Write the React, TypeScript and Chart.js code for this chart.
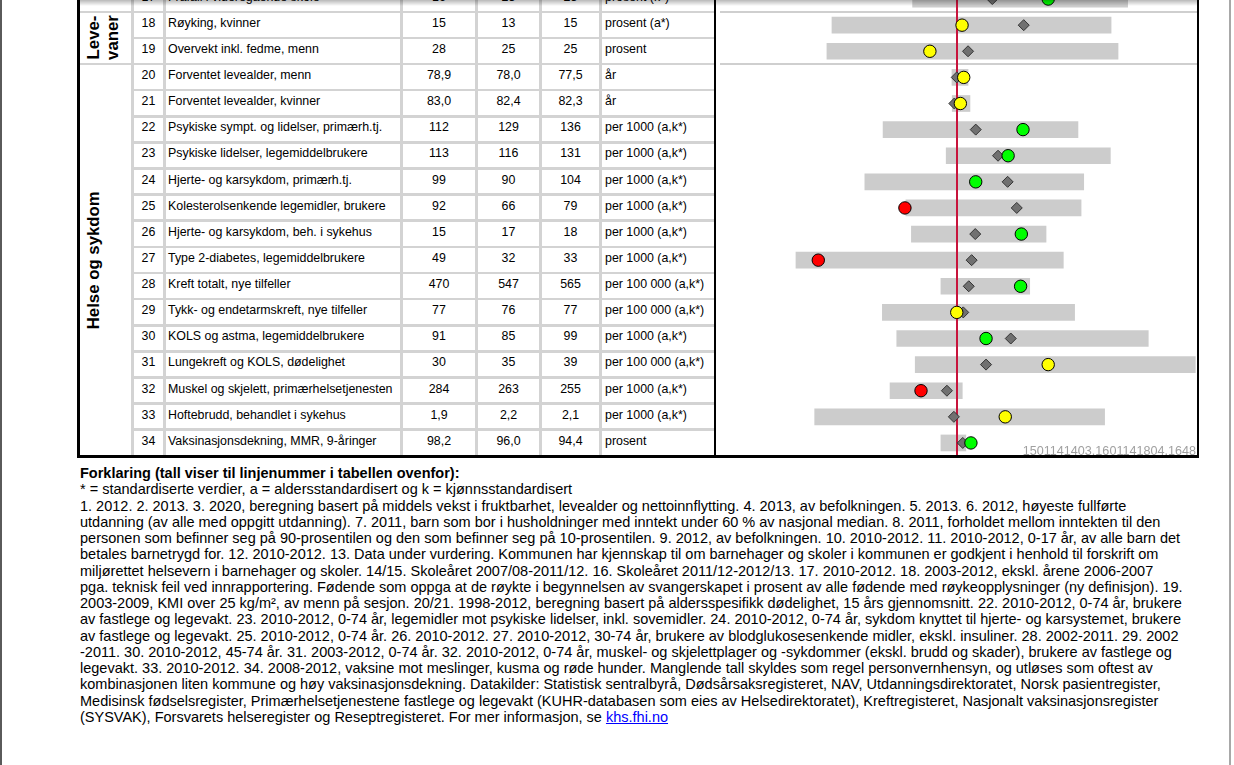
import React, { useEffect, useRef } from "react";
import { Chart, registerables } from "chart.js";

Chart.register(...registerables);

// ---------- data ----------
const rowNumbers = [17, 18, 19, 20, 21, 22, 23, 24, 25, 26, 27, 28, 29, 30, 31, 32, 33, 34];

const indicatorLabels = [
  "Frafall i videregående skole",
  "Røyking, kvinner",
  "Overvekt inkl. fedme, menn",
  "Forventet levealder, menn",
  "Forventet levealder, kvinner",
  "Psykiske sympt. og lidelser, primærh.tj.",
  "Psykiske lidelser, legemiddelbrukere",
  "Hjerte- og karsykdom, primærh.tj.",
  "Kolesterolsenkende legemidler, brukere",
  "Hjerte- og karsykdom, beh. i sykehus",
  "Type 2-diabetes, legemiddelbrukere",
  "Kreft totalt, nye tilfeller",
  "Tykk- og endetarmskreft, nye tilfeller",
  "KOLS og astma, legemiddelbrukere",
  "Lungekreft og KOLS, dødelighet",
  "Muskel og skjelett, primærhelsetjenesten",
  "Hoftebrudd, behandlet i sykehus",
  "Vaksinasjonsdekning, MMR, 9-åringer",
];

const municipalityText = ["16", "15", "28", "78,9", "83,0", "112", "113", "99", "92", "15", "49", "470", "77", "91", "30", "284", "1,9", "98,2"];
const countyText = ["23", "13", "25", "78,0", "82,4", "129", "116", "90", "66", "17", "32", "547", "76", "85", "35", "263", "2,2", "96,0"];
const norwayText = ["23", "15", "25", "77,5", "82,3", "136", "131", "104", "79", "18", "33", "565", "77", "99", "39", "255", "2,1", "94,4"];

const unitText = [
  "prosent (k*)",
  "prosent (a*)",
  "prosent",
  "år",
  "år",
  "per 1000 (a,k*)",
  "per 1000 (a,k*)",
  "per 1000 (a,k*)",
  "per 1000 (a,k*)",
  "per 1000 (a,k*)",
  "per 1000 (a,k*)",
  "per 100 000 (a,k*)",
  "per 100 000 (a,k*)",
  "per 1000 (a,k*)",
  "per 100 000 (a,k*)",
  "per 1000 (a,k*)",
  "per 1000 (a,k*)",
  "prosent",
];

// chart: standardised scores, Norway = 0
const rangeLow = [-18.5, -52.1, -54.2, -2.1, -2.0, -30.8, -4.5, -38.4, -21.3, -19.0, -67.1, -6.7, -31.1, -25.1, -17.4, -27.9, -59.3, -6.7];
const rangeHigh = [71.1, 64.2, 67.1, 4.6, 5.4, 50.4, 63.9, 52.8, 51.7, 37.1, 44.3, 30.3, 49.0, 79.7, 99.3, 2.2, 61.5, 3.7];
const countyScore = [14.7, 27.8, 4.6, -0.1, -1.1, 7.8, 17.1, 21.1, 24.9, 7.6, 6.1, 4.9, 2.6, 22.4, 12.1, -4.2, -1.3, 2.4];
const municipalityScore = [38.0, 2.1, -11.3, 2.8, 1.4, 27.5, 21.3, 7.8, -21.7, 26.8, -57.8, 26.5, -0.1, 12.1, 38.0, -15.0, 20.1, 5.8];
const markerColour = ["green", "yellow", "yellow", "yellow", "yellow", "green", "green", "green", "red", "green", "red", "green", "yellow", "green", "yellow", "red", "yellow", "green"];
const norwayReference = 0;

const groupLabels = [["Leve-", "vaner"], ["Helse og sykdom"]];
const groupFirstRow = [18, 20];
const groupLastRow = [19, 34];

const watermark = "1501141403.1601141804.1648";

const noteLines = [
  "* = standardiserte verdier, a = aldersstandardisert og k = kjønnsstandardisert",
  "1. 2012. 2. 2013. 3. 2020, beregning basert på middels vekst i fruktbarhet, levealder og nettoinnflytting. 4. 2013, av befolkningen. 5. 2013. 6. 2012, høyeste fullførte",
  "utdanning (av alle med oppgitt utdanning). 7. 2011, barn som bor i husholdninger med inntekt under 60 % av nasjonal median. 8. 2011, forholdet mellom inntekten til den",
  "personen som befinner seg på 90-prosentilen og den som befinner seg på 10-prosentilen. 9. 2012, av befolkningen. 10. 2010-2012. 11. 2010-2012, 0-17 år, av alle barn det",
  "betales barnetrygd for. 12. 2010-2012. 13. Data under vurdering. Kommunen har kjennskap til om barnehager og skoler i kommunen er godkjent i henhold til forskrift om",
  "miljørettet helsevern i barnehager og skoler. 14/15. Skoleåret 2007/08-2011/12. 16. Skoleåret 2011/12-2012/13. 17. 2010-2012. 18. 2003-2012, ekskl. årene 2006-2007",
  "pga. teknisk feil ved innrapportering. Fødende som oppga at de røykte i begynnelsen av svangerskapet i prosent av alle fødende med røykeopplysninger (ny definisjon). 19.",
  "2003-2009, KMI over 25 kg/m², av menn på sesjon. 20/21. 1998-2012, beregning basert på aldersspesifikk dødelighet, 15 års gjennomsnitt. 22. 2010-2012, 0-74 år, brukere",
  "av fastlege og legevakt. 23. 2010-2012, 0-74 år, legemidler mot psykiske lidelser, inkl. sovemidler. 24. 2010-2012, 0-74 år, sykdom knyttet til hjerte- og karsystemet, brukere",
  "av fastlege og legevakt. 25. 2010-2012, 0-74 år. 26. 2010-2012. 27. 2010-2012, 30-74 år, brukere av blodglukosesenkende midler, ekskl. insuliner. 28. 2002-2011. 29. 2002",
  "-2011. 30. 2010-2012, 45-74 år. 31. 2003-2012, 0-74 år. 32. 2010-2012, 0-74 år, muskel- og skjelettplager og -sykdommer (ekskl. brudd og skader), brukere av fastlege og",
  "legevakt. 33. 2010-2012. 34. 2008-2012, vaksine mot meslinger, kusma og røde hunder. Manglende tall skyldes som regel personvernhensyn, og utløses som oftest av",
  "kombinasjonen liten kommune og høy vaksinasjonsdekning. Datakilder: Statistisk sentralbyrå, Dødsårsaksregisteret, NAV, Utdanningsdirektoratet, Norsk pasientregister,",
  "Medisinsk fødselsregister, Primærhelsetjenestene fastlege og legevakt (KUHR-databasen som eies av Helsedirektoratet), Kreftregisteret, Nasjonalt vaksinasjonsregister",
];
const noteTitle = "Forklaring (tall viser til linjenummer i tabellen ovenfor):";
const noteLastLine = "(SYSVAK), Forsvarets helseregister og Reseptregisteret. For mer informasjon, se ";
const noteLink = "khs.fhi.no";

// ---------- layout ----------
const FONT = '"Liberation Sans", Arial, Helvetica, sans-serif';
const PITCH = 26.125;
const LINE0 = 11.8; // centre of grid line above row 18
const lineC = (k: number) => LINE0 + (k - 18) * PITCH;
const rowC = (k: number) => lineC(k) + PITCH / 2;
const HALF = 1.3;
const GRID = "#d3d3d3";
const TABLE_BOTTOM = 455;
const TOP_CUT = -14;

const palette: Record<string, string> = { green: "#00ff00", yellow: "#ffff00", red: "#ff0000" };

const cols = {
  cat: [80, 131],
  num: [134, 163],
  label: [166, 400],
  v1: [403, 475],
  v2: [478, 539],
  v3: [542, 599],
  unit: [602, 714],
};

function ScoreChart() {
  const ref = useRef<HTMLCanvasElement>(null);
  useEffect(() => {
    if (!ref.current) return;
    const chart = new Chart(ref.current, {
      type: "scatter",
      data: {
        datasets: [
          {
            type: "line",
            label: "Kommune",
            data: rowNumbers.map((r, i) => ({ x: municipalityScore[i], y: r })),
            showLine: false,
            pointRadius: 6.2,
            pointBackgroundColor: markerColour.map((c) => palette[c]),
            pointBorderColor: "#000000",
            pointBorderWidth: 1,
            clip: false,
            order: 1,
          } as any,
          {
            type: "line",
            label: "Fylke",
            data: rowNumbers.map((r, i) => ({ x: countyScore[i], y: r })),
            showLine: false,
            pointStyle: "rectRot",
            pointRadius: 5.5,
            pointBackgroundColor: "#707070",
            pointBorderColor: "#333333",
            pointBorderWidth: 1,
            clip: false,
            order: 2,
          } as any,
          {
            type: "line",
            label: "Norge",
            data: [
              { x: norwayReference, y: 16.5 },
              { x: norwayReference, y: 34.5 },
            ],
            borderColor: "#c8143c",
            borderWidth: 2,
            pointRadius: 0,
            clip: false,
            order: 3,
          } as any,
          {
            type: "bar",
            label: "Spredning",
            data: rowNumbers.map((r, i) => ({ x: [rangeLow[i], rangeHigh[i]], y: r })),
            indexAxis: "y",
            backgroundColor: "#cccccc",
            borderWidth: 0,
            barThickness: 16,
            order: 4,
          } as any,
        ],
      },
      options: {
        animation: false,
        responsive: false,
        maintainAspectRatio: false,
        events: [],
        layout: { padding: 0, autoPadding: false },
        plugins: { legend: { display: false }, tooltip: { enabled: false } },
        scales: {
          x: { type: "linear", min: -100, max: 100, display: false, offset: false, grace: 0 },
          y: { type: "linear", min: 16.5, max: 34.5, reverse: true, display: false, offset: false, grace: 0 },
        },
      } as any,
    });
    return () => chart.destroy();
  }, []);
  return (
    <canvas
      ref={ref}
      width={480}
      height={470}
      style={{ position: "absolute", left: 717, top: TOP_CUT, width: 480, height: 470 }}
    />
  );
}

const abs = (l: number, t: number, w: number, h: number, extra: React.CSSProperties = {}): React.CSSProperties => ({
  position: "absolute",
  left: l,
  top: t,
  width: w,
  height: h,
  ...extra,
});

function cellBox(k: number, col: number[]) {
  const top = k === 17 ? TOP_CUT : lineC(k) + HALF;
  const bottom = k === 34 ? TABLE_BOTTOM : lineC(k + 1) - HALF;
  return abs(col[0], top, col[1] - col[0], bottom - top, { background: "#ffffff" });
}

export default function App() {
  const cells: React.ReactNode[] = [];
  const texts: React.ReactNode[] = [];
  rowNumbers.forEach((k, i) => {
    (["num", "label", "v1", "v2", "v3", "unit"] as const).forEach((c) => {
      cells.push(<div key={`c${k}${c}`} style={cellBox(k, cols[c])} />);
    });
    const t = rowC(k) - 9;
    const base: React.CSSProperties = {
      position: "absolute",
      top: t,
      height: 14,
      lineHeight: "14px",
      fontSize: 12.4,
      whiteSpace: "nowrap",
      color: "#000",
    };
    const centred = (c: number[], s: string, key: string) => (
      <div key={key} style={{ ...base, left: c[0], width: c[1] - c[0], textAlign: "center" }}>
        {s}
      </div>
    );
    texts.push(centred(cols.num, String(k), `n${k}`));
    texts.push(
      <div key={`l${k}`} style={{ ...base, left: cols.label[0] + 2 }}>
        {indicatorLabels[i]}
      </div>
    );
    texts.push(centred(cols.v1, municipalityText[i], `a${k}`));
    texts.push(centred(cols.v2, countyText[i], `b${k}`));
    texts.push(centred(cols.v3, norwayText[i], `d${k}`));
    texts.push(
      <div key={`u${k}`} style={{ ...base, left: cols.unit[0] + 3 }}>
        {unitText[i]}
      </div>
    );
  });

  // category column cells
  const catCells: React.ReactNode[] = [];
  catCells.push(
    <div key="cat17" style={abs(cols.cat[0], TOP_CUT, cols.cat[1] - cols.cat[0], lineC(18) - HALF - TOP_CUT, { background: "#fff" })} />
  );
  groupLabels.forEach((lines, g) => {
    const top = lineC(groupFirstRow[g]) + HALF;
    const bottom = groupLastRow[g] === 34 ? TABLE_BOTTOM : lineC(groupLastRow[g] + 1) - HALF;
    catCells.push(
      <div key={`g${g}`} style={abs(cols.cat[0], top, cols.cat[1] - cols.cat[0], bottom - top, { background: "#fff" })} />
    );
    const lh = 18.5;
    const blockH = lines.length * lh;
    const cx = 84.9 + blockH / 2;
    const cy = (top + bottom) / 2;
    const w = 200;
    catCells.push(
      <div
        key={`gl${g}`}
        style={{
          position: "absolute",
          left: cx - w / 2,
          top: cy - blockH / 2,
          width: w,
          height: blockH,
          lineHeight: `${lh}px`,
          fontSize: 16.8,
          fontWeight: "bold",
          textAlign: "center",
          transform: "rotate(-90deg)",
          transformOrigin: "50% 50%",
          whiteSpace: "nowrap",
        }}
      >
        {lines.map((s, j) => (
          <div key={j}>{s}</div>
        ))}
      </div>
    );
  });

  const noteTop = 465;
  const noteLH = 16.27;

  return (
    <div
      style={{
        position: "absolute",
        left: 0,
        top: 0,
        width: 1234,
        height: 765,
        overflow: "hidden",
        background: "#ffffff",
        fontFamily: FONT,
        color: "#000",
      }}
    >
      {/* page edges */}
      <div style={abs(0, 0, 2, 765, { background: "#5a5a5a" })} />
      <div style={abs(1229, 0, 2, 765, { background: "#a8a8a8" })} />

      {/* table grid background */}
      <div style={abs(80, TOP_CUT, 634, TABLE_BOTTOM - TOP_CUT, { background: GRID })} />
      {catCells}
      {cells}
      {texts}

      {/* chart area */}
      <div style={abs(716, TOP_CUT, 481, TABLE_BOTTOM - TOP_CUT, { background: "#ffffff" })} />
      <div style={abs(720, lineC(18) - 0.9, 477, 1.8, { background: "#cfcfcf" })} />
      <div style={abs(720, lineC(20) - 0.9, 477, 1.8, { background: "#cfcfcf" })} />
      <ScoreChart />
      <div
        style={{
          position: "absolute",
          right: 1234 - 1196,
          top: 444,
          height: 14,
          lineHeight: "14px",
          fontSize: 12.6,
          color: "#a0a0a0",
          whiteSpace: "nowrap",
        }}
      >
        {watermark}
      </div>

      {/* black frame */}
      <div style={abs(77, TOP_CUT, 3, 458 - TOP_CUT, { background: "#000" })} />
      <div style={abs(714, TOP_CUT, 2, 458 - TOP_CUT, { background: "#000" })} />
      <div style={abs(1197, TOP_CUT, 2, 458 - TOP_CUT, { background: "#000" })} />
      <div style={abs(77, 455, 1122, 3, { background: "#000" })} />

      {/* top shadow */}
      <div
        style={abs(78, 0, 1121, 6, {
          background: "linear-gradient(rgba(0,0,0,0.28), rgba(0,0,0,0))",
        })}
      />

      {/* notes */}
      <div
        style={{
          position: "absolute",
          left: 80,
          top: noteTop,
          fontSize: 14.5,
          lineHeight: `${noteLH}px`,
          whiteSpace: "nowrap",
        }}
      >
        <div style={{ fontWeight: "bold" }}>{noteTitle}</div>
        {noteLines.map((s, i) => (
          <div key={i}>{s}</div>
        ))}
        <div>
          {noteLastLine}
          <span style={{ color: "#0000ff", textDecoration: "underline" }}>{noteLink}</span>
        </div>
      </div>
    </div>
  );
}
